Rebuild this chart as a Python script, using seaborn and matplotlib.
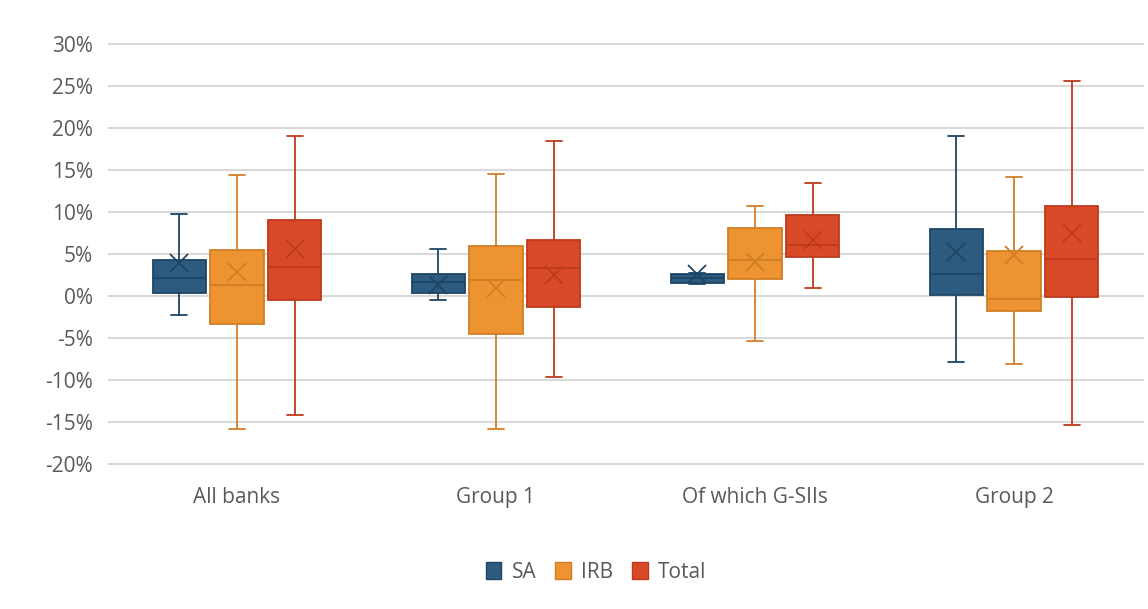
import numpy as np
import pandas as pd
import matplotlib
matplotlib.use("Agg")
import matplotlib.pyplot as plt
import seaborn as sns
from matplotlib.patches import Patch
from matplotlib.ticker import FuncFormatter

# ---- data (percent) ----
groups = ["All banks", "Group 1", "Of which G-SIIs", "Group 2"]
series = ["SA", "IRB", "Total"]

sa_min = [-2.3, -0.5, 1.4, -7.9]
sa_q1 = [0.3, 0.3, 1.5, 0.15]
sa_med = [2.2, 1.7, 2.1, 2.6]
sa_q3 = [4.3, 2.6, 2.6, 8.0]
sa_max = [9.8, 5.6, 2.7, 19.0]
sa_mean = [3.9, 1.3, 2.6, 5.2]

irb_min = [-15.8, -15.8, -5.4, -8.1]
irb_q1 = [-3.3, -4.5, 2.0, -1.75]
irb_med = [1.3, 1.9, 4.3, -0.35]
irb_q3 = [5.5, 6.0, 8.05, 5.4]
irb_max = [14.4, 14.5, 10.75, 14.2]
irb_mean = [2.8, 0.9, 4.1, 4.9]

tot_min = [-14.2, -9.7, 0.9, -15.4]
tot_q1 = [-0.5, -1.35, 4.7, -0.1]
tot_med = [3.45, 3.3, 6.1, 4.4]
tot_q3 = [9.1, 6.7, 9.6, 10.7]
tot_max = [19.1, 18.4, 13.5, 25.6]
tot_mean = [5.6, 2.5, 6.7, 7.5]

yticks = [-20, -15, -10, -5, 0, 5, 10, 15, 20, 25, 30]

fills = ["#2D5B7F", "#EE9332", "#D84A27"]
edges = ["#1E4565", "#D07F25", "#BE3A1D"]

# ---- long-form table: five-number summary per box ----
summ = {
    "SA": (sa_min, sa_q1, sa_med, sa_q3, sa_max),
    "IRB": (irb_min, irb_q1, irb_med, irb_q3, irb_max),
    "Total": (tot_min, tot_q1, tot_med, tot_q3, tot_max),
}
means = {"SA": sa_mean, "IRB": irb_mean, "Total": tot_mean}
rows = []
for s in series:
    for gi, g in enumerate(groups):
        for arr in summ[s]:
            rows.append({"group": g, "series": s, "value": arr[gi]})
df = pd.DataFrame(rows)

sns.set_theme(style="white")
plt.rcParams["font.family"] = ["Open Sans", "DejaVu Sans"]

W, H = 1148, 609
fig = plt.figure(figsize=(W / 100, H / 100), dpi=100)
ax = fig.add_axes([107.5 / W, 0.234, (1143.5 - 107.5) / W, 0.9319 - 0.234])

total_w = 0.67
slot = total_w / len(series)
for si, s in enumerate(series):
    sns.boxplot(
        data=df[df["series"] == s], x="group", y="value", hue="series",
        order=groups, hue_order=series,
        palette=dict(zip(series, fills)), linecolor=edges[si],
        width=total_w, gap=0.08, whis=(0, 100), saturation=1,
        linewidth=1.3, dodge=True, legend=False, ax=ax, capwidths=0.06,
    )

# mean markers
mrows = []
for si, s in enumerate(series):
    for gi, g in enumerate(groups):
        mrows.append({"x": gi + (si - 1) * slot, "y": means[s][gi], "series": s})
mdf = pd.DataFrame(mrows)
for si, s in enumerate(series):
    sub = mdf[mdf["series"] == s]
    ax.plot(sub["x"], sub["y"], linestyle="none", marker="x", markersize=13,
            markeredgewidth=1.3, color=edges[si], zorder=5)

ax.set_xlim(-0.5, len(groups) - 0.5)
ax.set_ylim(-20.3, 30.3)
ax.set_yticks(yticks)
ax.yaxis.set_major_formatter(FuncFormatter(lambda v, p: f"{v:.0f}%"))
ax.grid(axis="y", color="#D9D9D9", linewidth=1.5)
ax.set_axisbelow(True)
for sp in ax.spines.values():
    sp.set_visible(False)
ax.set_xlabel("")
ax.set_ylabel("")
ax.tick_params(axis="y", length=0, pad=10.5, labelsize=15, labelcolor="#595959")
ax.tick_params(axis="x", length=0, pad=15, labelsize=15, labelcolor="#595959")

handles = [Patch(facecolor=f, edgecolor=e, linewidth=1.0) for f, e in zip(fills, edges)]
fig.legend(handles, series, loc="center", bbox_to_anchor=(596 / W, 1 - 572 / H),
           ncol=3, frameon=False, fontsize=15, handlelength=0.75, handleheight=0.85,
           handletextpad=0.5, columnspacing=0.9, labelcolor="#595959")

fig.savefig("out.png", dpi=100)
